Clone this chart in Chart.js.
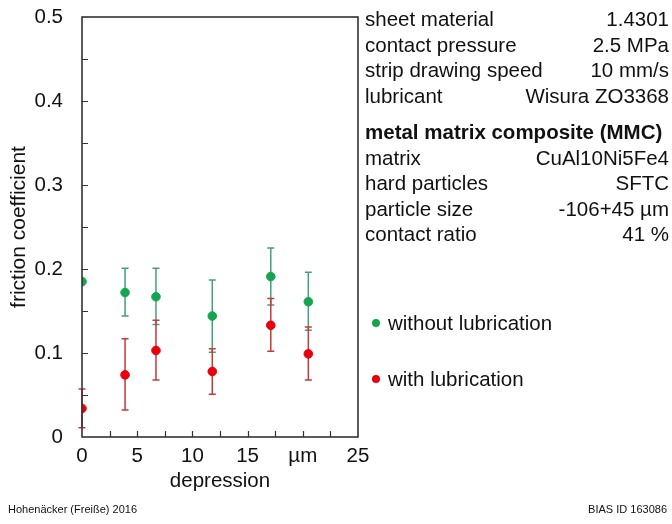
<!DOCTYPE html>
<html>
<head>
<meta charset="utf-8">
<script src="https://cdn.jsdelivr.net/npm/chart.js@4.4.1/dist/chart.umd.min.js"></script>
<style>
  body { margin: 0; background: #fff; font-family: "Liberation Sans", Arial, sans-serif; color: #111; }
  #wrap { position: relative; width: 672px; height: 524px; overflow: hidden; }
  #c { position: absolute; left: 0; top: 0; }
  .panel { position: absolute; left: 365px; width: 304px; font-size: 20.5px; line-height: 25.6px; }
  .row { display: flex; justify-content: space-between; white-space: nowrap; }
  .bold { font-weight: bold; }
  .leg { position: absolute; left: 372px; font-size: 20.5px; white-space: nowrap; }
  .leg span.dot { display: inline-block; width: 8px; height: 8px; border-radius: 50%; margin-right: 8px; vertical-align: 3px; }
  .foot { position: absolute; top: 503px; font-size: 11px; }
</style>
</head>
<body>
<div id="wrap">
  <canvas id="c" width="672" height="524"></canvas>
  <div class="panel" id="info1" style="top:6px"></div>
  <div class="panel" id="info2" style="top:119px"></div>
  <div class="leg" style="top:311px"><span class="dot" style="background:#14a550"></span>without lubrication</div>
  <div class="leg" style="top:367px"><span class="dot" style="background:#e8000b"></span>with lubrication</div>
  <div class="foot" style="left:8px">Hohenäcker (Freiße) 2016</div>
  <div class="foot" style="right:5px">BIAS ID 163086</div>
</div>
<script>
// depression in µm
const depth = [0, 3.9, 6.7, 11.8, 17.1, 20.5]

// friction coefficient, without lubrication (mean, lower, upper)
const withoutLub = [0.185, 0.172, 0.167, 0.144, 0.191, 0.161]
const withoutLo = [null, 0.144, 0.134, 0.101, 0.157, 0.127]
const withoutHi = [null, 0.201, 0.201, 0.187, 0.225, 0.196]

// friction coefficient, with lubrication
const withLub = [0.034, 0.074, 0.103, 0.078, 0.133, 0.099]
const withLo = [0.011, 0.032, 0.068, 0.051, 0.102, 0.068]
const withHi = [0.057, 0.117, 0.139, 0.105, 0.165, 0.131]

const xTickLabels = ['0', '5', '10', '15', 'µm', '25']
const yTickLabels = ['0', '0.1', '0.2', '0.3', '0.4', '0.5']

const testConditions = [
  ['sheet material', '1.4301'],
  ['contact pressure', '2.5 MPa'],
  ['strip drawing speed', '10 mm/s'],
  ['lubricant', 'Wisura ZO3368']
]
const mmcTitle = 'metal matrix composite (MMC)'
const mmcProps = [
  ['matrix', 'CuAl10Ni5Fe4'],
  ['hard particles', 'SFTC'],
  ['particle size', '-106+45 µm'],
  ['contact ratio', '41 %']
]

function fillRows(el, rows, title){
  let html = title ? '<div class="row bold">' + title + '</div>' : ''
  for(const r of rows){
    html += '<div class="row"><span>' + r[0] + '</span><span>' + r[1] + '</span></div>'
  }
  document.getElementById(el).innerHTML = html
}
fillRows('info1', testConditions)
fillRows('info2', mmcProps, mmcTitle)

const axisColor = '#333'
const fontFam = '"Liberation Sans", Arial, sans-serif'

// error bars, inward ticks and frame
const extras = {
  id: 'extras',
  beforeDatasetsDraw(chart){
    const ctx = chart.ctx
    const xs = chart.scales.x, ys = chart.scales.y
    const bars = [
      {lo: withoutLo, hi: withoutHi, color: '#45a077'},
      {lo: withLo, hi: withHi, color: '#c23a3c'}
    ]
    ctx.save()
    ctx.lineWidth = 1.5
    for(const b of bars){
      ctx.strokeStyle = b.color
      depth.forEach((d, i) => {
        if(b.lo[i] == null) return
        const px = xs.getPixelForValue(d)
        const y1 = ys.getPixelForValue(b.lo[i])
        const y2 = ys.getPixelForValue(b.hi[i])
        ctx.beginPath()
        ctx.moveTo(px, y1); ctx.lineTo(px, y2)
        ctx.moveTo(px - 3.5, y1); ctx.lineTo(px + 3.5, y1)
        ctx.moveTo(px - 3.5, y2); ctx.lineTo(px + 3.5, y2)
        ctx.stroke()
      })
    }
    ctx.restore()
  },
  afterDraw(chart){
    const ctx = chart.ctx
    const a = chart.chartArea
    const xs = chart.scales.x, ys = chart.scales.y
    ctx.save()
    ctx.strokeStyle = axisColor
    ctx.lineWidth = 1.2
    ctx.beginPath()
    for(let v = 2.5; v < 25; v += 2.5){
      const px = Math.round(xs.getPixelForValue(v)) + 0.5
      ctx.moveTo(px, a.bottom); ctx.lineTo(px, a.bottom - 6)
    }
    for(let k = 1; k < 10; k++){
      const py = Math.round(ys.getPixelForValue(k * 0.05)) + 0.5
      ctx.moveTo(a.left, py); ctx.lineTo(a.left + 6, py)
    }
    ctx.stroke()
    ctx.lineWidth = 1.6
    ctx.strokeRect(a.left, a.top, a.right - a.left, a.bottom - a.top)
    ctx.restore()
  }
}

new Chart('c', {
  type: 'scatter',
  data: {
    datasets: [
      {
        label: 'without lubrication',
        data: depth.map((d, i) => ({x: d, y: withoutLub[i]})),
        backgroundColor: '#14a550',
        borderColor: '#14a550',
        pointRadius: 4.3,
        pointHoverRadius: 4.3
      },
      {
        label: 'with lubrication',
        data: depth.map((d, i) => ({x: d, y: withLub[i]})),
        backgroundColor: '#e8000b',
        borderColor: '#e8000b',
        pointRadius: 4.3,
        pointHoverRadius: 4.3
      }
    ]
  },
  options: {
    responsive: false,
    animation: false,
    devicePixelRatio: 1,
    layout: {
      autoPadding: false,
      padding: {top: 17, right: 314, bottom: 0, left: 0}
    },
    plugins: {
      legend: {display: false},
      tooltip: {enabled: false}
    },
    scales: {
      x: {
        type: 'linear',
        min: 0,
        max: 25,
        grid: {display: false, drawTicks: false},
        border: {display: false},
        afterBuildTicks: (s) => { s.ticks = xTickLabels.map((t, i) => ({value: i * 5})) },
        afterFit: (s) => { s.height = 87; s.paddingLeft = 0; s.paddingRight = 0 },
        ticks: {
          padding: 7,
          color: '#111',
          font: {family: fontFam, size: 20.5},
          maxRotation: 0,
          callback: (v) => xTickLabels[Math.round(v / 5)]
        },
        title: {
          display: true,
          text: 'depression',
          color: '#111',
          font: {family: fontFam, size: 20.5},
          padding: {top: 0, bottom: 30}
        }
      },
      y: {
        min: 0,
        max: 0.5,
        grid: {display: false, drawTicks: false},
        border: {display: false},
        afterBuildTicks: (s) => { s.ticks = yTickLabels.map((t, i) => ({value: i * 0.1})) },
        afterFit: (s) => { s.width = 82; s.paddingTop = 0; s.paddingBottom = 0 },
        ticks: {
          padding: 19,
          color: '#111',
          font: {family: fontFam, size: 20.5},
          callback: (v) => yTickLabels[Math.round(v * 10)]
        },
        title: {
          display: true,
          text: 'friction coefficient',
          color: '#111',
          font: {family: fontFam, size: 21},
          padding: {top: 7, bottom: 0}
        }
      }
    }
  },
  plugins: [extras]
})
</script>
</body>
</html>
